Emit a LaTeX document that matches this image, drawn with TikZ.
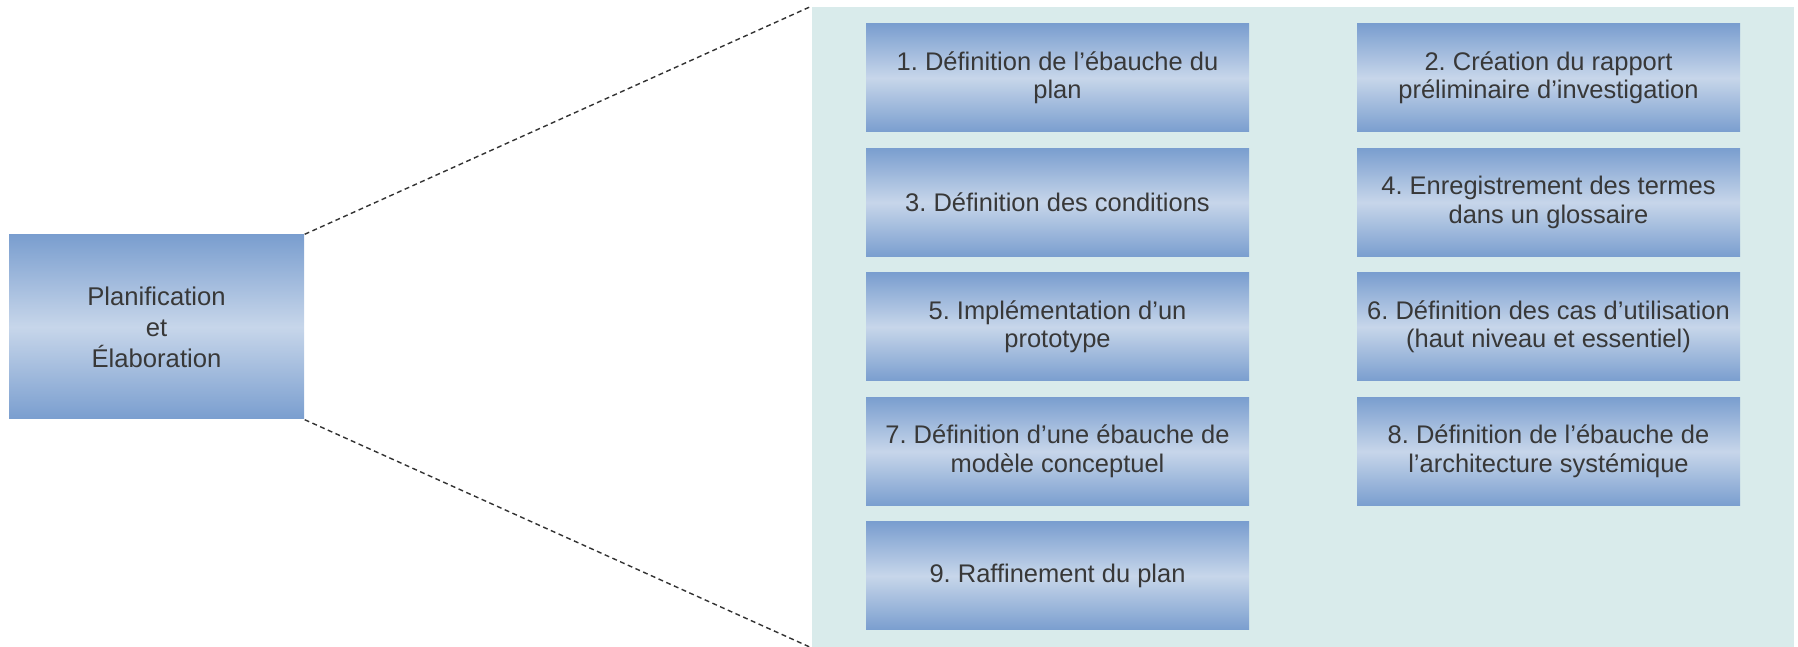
\documentclass[tikz,border=0pt]{standalone}
\usepackage{fontspec}
\setmainfont{Liberation Sans}
\frenchspacing
\definecolor{boxedge}{HTML}{7A9ECF}
\definecolor{boxmid}{HTML}{C7D6EA}
\definecolor{panelbg}{HTML}{D9EBEB}
\definecolor{textgray}{HTML}{383838}
\tikzset{
  stepbox/.style={rectangle, minimum width=3.83cm, minimum height=1.08cm, inner sep=0pt,
    align=center, text=textgray, top color=boxedge, bottom color=boxedge, middle color=boxmid,
    font=\fontsize{7.25}{8.1}\selectfont},
  phasebox/.style={stepbox, minimum width=2.95cm, minimum height=1.84cm,
    font=\fontsize{7.3}{8.8}\selectfont},
  zoomline/.style={draw=black!80, line width=.4pt, dash pattern=on 1.4pt off 1pt}
}
\begin{document}
\begin{tikzpicture}[line join=round]
\useasboundingbox (0,0) rectangle (17.98,6.47);
\node[fill=panelbg, minimum width=9.82cm, minimum height=6.40cm, inner sep=0pt] (panel) at (13.03,3.20) {};
\node[phasebox] (phase) at (1.565,3.20) {Planification\\et\\Élaboration};
\draw[zoomline] (phase.north east)--(panel.north west);
\draw[zoomline] (phase.south east)--(panel.south west);
% colonne de gauche
\node[stepbox] (s1) at (10.575,5.69) {1. Définition de l’ébauche du\\plan};
\node[stepbox] (s3) at (10.575,4.445) {3. Définition des conditions};
\node[stepbox] (s5) at (10.575,3.20) {5. Implémentation d’un\\prototype};
\node[stepbox] (s7) at (10.575,1.955) {7. Définition d’une ébauche de\\modèle conceptuel};
\node[stepbox] (s9) at (10.575,0.71) {9. Raffinement du plan};
% colonne de droite
\node[stepbox] (s2) at (15.485,5.69) {2. Création du rapport\\préliminaire d’investigation};
\node[stepbox] (s4) at (15.485,4.445) {4. Enregistrement des termes\\dans un glossaire};
\node[stepbox] (s6) at (15.485,3.20) {6. Définition des cas d’utilisation\\(haut niveau et essentiel)};
\node[stepbox] (s8) at (15.485,1.955) {8. Définition de l’ébauche de\\l’architecture systémique};
\end{tikzpicture}
\end{document}
